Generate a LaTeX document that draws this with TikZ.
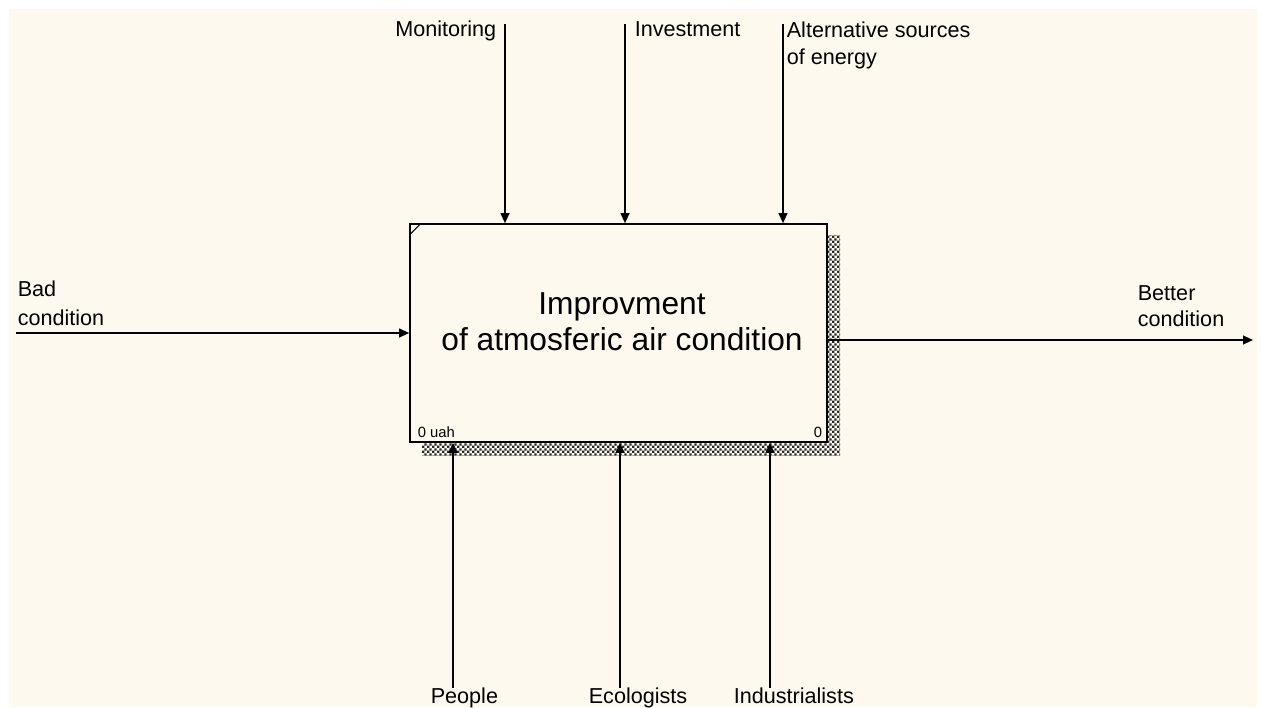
\documentclass[tikz,border=0pt]{standalone}
\usepackage{fontspec}
\setmainfont{Liberation Sans}
\usetikzlibrary{arrows.meta,patterns.meta}
\definecolor{bg}{RGB}{253,249,238}
\tikzdeclarepattern{
  name=finechecker,
  type=uncolored,
  bottom left={(0pt,0pt)},
  top right={(2.4pt,2.4pt)},
  tile size={(2.4pt,2.4pt)},
  code={\fill (0pt,0pt) rectangle (1.2pt,1.2pt); \fill (1.2pt,1.2pt) rectangle (2.4pt,2.4pt);}
}
\begin{document}
\begin{tikzpicture}[x=0.5pt,y=-0.5pt, line width=0.8pt,
  >={Triangle[length=5pt,width=4.4pt]},
  lbl/.style={font=\fontsize{10.8}{13.5}\selectfont, inner sep=0pt},
  arr/.style={->},
  idefbox/.style={draw, fill=bg, minimum width=208.5pt, minimum height=109pt, inner sep=0pt},
  small/.style={font=\fontsize{7.4}{9}\selectfont, inner sep=0pt}]
\useasboundingbox (0,0) rectangle (1261,707);
\fill[white] (0,0) rectangle (1261,707);
\fill[bg] (9,9) rectangle (1257,707);
% shadow
\fill[pattern=finechecker, pattern color=black!85] (422,235) rectangle (840,455);
% box
\node[idefbox] (box) at (618.5,333) {};
\draw[line width=0.5pt] (box.north west) ++(1,11) -- ++(10,-10);
\node[font=\fontsize{15.85}{18}\selectfont, align=center, inner sep=0pt] (title) at (622,322) {Improvment\\of atmosferic air condition};
\node[small, anchor=base west] (cost) at (417,437) {0 uah};
\node[small, anchor=base east] (num) at (823,437) {0};
% controls
\coordinate (cM) at (505,24);
\coordinate (cI) at (625,24);
\coordinate (cA) at (783,24);
\draw[arr] (cM) -- (cM |- box.north);
\draw[arr] (cI) -- (cI |- box.north);
\draw[arr] (cA) -- (cA |- box.north);
\node[lbl, anchor=base east] (lM) at (497,36.5) {Monitoring};
\node[lbl, anchor=base west] (lI) at (634,36.5) {Investment};
\node[lbl, anchor=north west, align=left] (lA) at (786,21) {Alternative sources\\of energy};
% input
\coordinate (cB) at (16,333);
\draw[arr] (cB) -- (box.west);
\node[lbl, anchor=north west, align=left, font=\fontsize{10.8}{14.5}\selectfont] (lB) at (17,280) {Bad\\condition};
% output
\coordinate (cO) at (1253,340);
\draw[arr] (box.east |- cO) -- (cO);
\node[lbl, anchor=north west, align=left, font=\fontsize{10.8}{12.8}\selectfont] (lO) at (1137,285) {Better\\condition};
% mechanisms
\coordinate (cP) at (453,688);
\coordinate (cE) at (620,688);
\coordinate (cN) at (770,688);
\draw[arr] (cP) -- (cP |- box.south);
\draw[arr] (cE) -- (cE |- box.south);
\draw[arr] (cN) -- (cN |- box.south);
\node[lbl, anchor=base west] (lP) at (430,703) {People};
\node[lbl, anchor=base west] (lE) at (588,703) {Ecologists};
\node[lbl, anchor=base west] (lN) at (733,703) {Industrialists};
\end{tikzpicture}
\end{document}
